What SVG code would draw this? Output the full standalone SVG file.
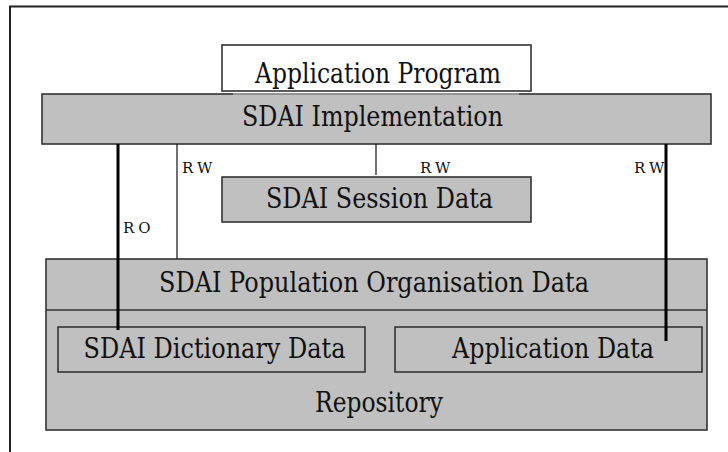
<svg xmlns="http://www.w3.org/2000/svg" width="728" height="452" viewBox="0 0 728 452">
  <style>
    .box { fill: #c0c0c0; stroke: #333; stroke-width: 1.6; }
    .plain { fill: #fff; stroke: #333; stroke-width: 1.6; }
    .inner { fill: none; stroke: #333; stroke-width: 1.6; }
    text { fill: #111; }
    .t { font-family: 'DejaVu Serif', serif; font-size: 27px; text-anchor: middle; }
    .lbl { font-family: 'DejaVu Serif', serif; font-size: 15px; letter-spacing: 4px; }
    .thick { stroke: #000; stroke-width: 3; fill: none; }
    .thin { stroke: #111; stroke-width: 1.2; fill: none; }
  </style>
  <rect width="728" height="452" fill="#fff"/>
  <!-- page frame -->
  <path d="M10 452 V6.5 H728" fill="none" stroke="#222" stroke-width="2"/>

  <g id="implementation">
    <rect class="box" x="42" y="94" width="669" height="50"/>
    <line x1="233" y1="94" x2="519" y2="94" stroke="#a8a8a8" stroke-width="1.6"/>
    <text class="t" x="372.5" y="126" textLength="261" lengthAdjust="spacingAndGlyphs">SDAI Implementation</text>
  </g>

  <g id="application-program">
    <rect class="plain" x="222" y="45" width="309" height="46"/>
    <text class="t" x="378" y="83" textLength="246" lengthAdjust="spacingAndGlyphs">Application Program</text>
  </g>

  <g id="session-data">
    <rect class="box" x="222" y="177" width="309" height="45"/>
    <text class="t" x="379.5" y="208" textLength="227" lengthAdjust="spacingAndGlyphs">SDAI Session Data</text>
  </g>

  <g id="repository">
    <rect class="box" x="46" y="259" width="661" height="171"/>
    <line class="inner" x1="46" y1="310" x2="707" y2="310"/>
    <text class="t" x="374" y="291.5" textLength="430" lengthAdjust="spacingAndGlyphs">SDAI Population Organisation Data</text>
    <text class="t" x="379" y="411.5" textLength="128" lengthAdjust="spacingAndGlyphs">Repository</text>
  </g>

  <g id="dictionary-data">
    <rect class="inner" x="58" y="327" width="307" height="45"/>
    <text class="t" x="214.5" y="358" textLength="262" lengthAdjust="spacingAndGlyphs">SDAI Dictionary Data</text>
  </g>

  <g id="application-data">
    <rect class="inner" x="395" y="327" width="307" height="45"/>
    <text class="t" x="553" y="358" textLength="202" lengthAdjust="spacingAndGlyphs">Application Data</text>
  </g>

  <g id="connectors">
    <line class="thick" x1="118" y1="144" x2="118" y2="330"/>
    <line class="thin" x1="177" y1="144" x2="177" y2="259"/>
    <line class="thin" x1="376" y1="144" x2="376" y2="175"/>
    <line class="thick" x1="666" y1="144" x2="666" y2="341"/>
    <text class="lbl" x="182" y="173">RW</text>
    <text class="lbl" x="420" y="173">RW</text>
    <text class="lbl" x="634" y="173">RW</text>
    <text class="lbl" x="123" y="233">RO</text>
  </g>
</svg>
